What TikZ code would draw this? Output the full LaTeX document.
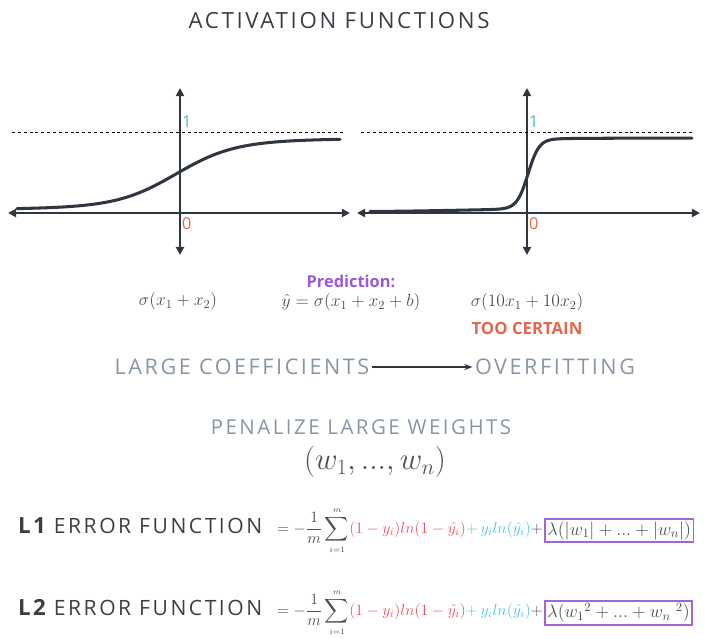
\RequirePackage{fix-cm}
\documentclass[tikz,border=0pt]{standalone}
\usepackage{amsmath}
\usepackage{fontspec}
\setsansfont{Open Sans}
\newfontfamily\widefont[LetterSpace=12]{Open Sans}
\usepackage{xcolor}
\usetikzlibrary{arrows.meta,positioning}
\definecolor{axisgray}{HTML}{2F3640}
\definecolor{titlegray}{HTML}{3A3F46}
\definecolor{slate}{HTML}{8796A5}
\definecolor{predpurple}{HTML}{9B59D6}
\definecolor{boxpurple}{HTML}{A463D8}
\definecolor{certorange}{HTML}{E5674B}
\definecolor{onecyan}{HTML}{45B8D5}
\definecolor{errred}{HTML}{E0556A}
\definecolor{errblue}{HTML}{4CC0E0}
\definecolor{mathgray}{HTML}{4A4F55}

\tikzset{
  axis/.style={line width=1.7pt,color=axisgray,{Triangle[length=7pt,width=7pt]}-{Triangle[length=7pt,width=7pt]}},
  curve/.style={line width=2.6pt,color=axisgray,line cap=round},
  limit/.style={line width=0.8pt,dash pattern=on 2.5pt off 2.5pt},
  onelbl/.style={font=\sffamily\fontsize{14}{16}\selectfont,text=onecyan,inner sep=0pt},
  zerolbl/.style={font=\sffamily\fontsize{14}{16}\selectfont,text=certorange,inner sep=0pt},
  mathlbl/.style={font=\fontsize{15}{18}\selectfont,text=mathgray,inner sep=0pt},
  headline/.style={font=\widefont\fontsize{19}{22}\selectfont,text=titlegray,inner sep=1pt},
  graylbl/.style={font=\widefont\fontsize{18.4}{22}\selectfont,text=slate,inner sep=2pt},
  rowlbl/.style={font=\widefont\fontsize{18}{21}\selectfont,text=titlegray,inner sep=0pt},
  formula/.style={font=\fontsize{13.5}{16}\selectfont,text=mathgray,inner sep=0pt},
  regbox/.style={draw=boxpurple,line width=1.4pt,font=\fontsize{15.5}{18}\selectfont,text=mathgray,inner sep=2pt}
}

\begin{document}
\begin{tikzpicture}[x=0.03cm,y=-0.03cm,>={Stealth[length=7pt]}]
  \useasboundingbox (0,0) rectangle (709,638);
  \node[headline] (title) at (339,21) {ACTIVATION FUNCTIONS};

  \draw[axis] (8,213) -- (350,213);
  \draw[axis] (180,88) -- (180,255);
  \draw[limit] (12,132) -- (345,132);
  \draw[curve] plot[domain=17:340,samples=150] (\x,{207-66/(1+exp(-0.034*(\x-176)))-0.012*(\x-176)});
  \node[onelbl,anchor=west] (onea) at (182,122) {1};
  \node[zerolbl,anchor=west] (zeroa) at (182,224) {0};

  \draw[axis] (357,213) -- (700,213);
  \draw[axis] (527,88) -- (527,255);
  \draw[limit] (361,132) -- (693,132);
  \draw[curve] plot[domain=370:692,samples=250] (\x,{212-70/(1+exp(max(-9,min(9,-0.18*(\x-528)))))-4/(1+exp(-0.02*(\x-470)))});
  \node[onelbl,anchor=west] (oneb) at (529,122) {1};
  \node[zerolbl,anchor=west] (zerob) at (529,224) {0};

  \node[mathlbl] (siga) at (178,301) {$\sigma(x_1+x_2)$};
  \node[font=\sffamily\bfseries\fontsize{14}{16}\selectfont,text=predpurple,inner sep=0pt] (pred) at (351,281) {Prediction:};
  \node[mathlbl] (yhat) at (351,302) {$\hat{y}=\sigma(x_1+x_2+b)$};
  \node[mathlbl] (sigb) at (527,302) {$\sigma(10x_1+10x_2)$};
  \node[font=\sffamily\bfseries\fontsize{14.3}{17}\selectfont,text=certorange,inner sep=0pt] (cert) at (527,328) {TOO CERTAIN};

  \node[graylbl] (large) at (242,367) {LARGE COEFFICIENTS};
  \node[graylbl] (over) at (555,367) {OVERFITTING};
  \draw[->,line width=1.2pt,color=axisgray] (large) -- (over);

  \node[graylbl,font=\widefont\fontsize{17.5}{21}\selectfont] (penal) at (361,427) {PENALIZE LARGE WEIGHTS};
  \node[font=\fontsize{26.5}{31}\selectfont,text=mathgray] (wvec) at (375,462) {$(w_1,...,w_n)$};

  \node[rowlbl,anchor=base west] (lone) at (18,533) {{\bfseries\fontsize{19}{21}\selectfont L\kern2pt1}\ ERROR FUNCTION};
  \node[formula,anchor=base west] (lonesum) at (277,533) {$\displaystyle=-\frac{1}{m}\sum_{\scriptscriptstyle i=1}^{\scriptscriptstyle m}\!\textcolor{errred}{(1-y_i)ln(1-\hat{y_i})}\textcolor{errblue}{+\,y_iln(\hat{y_i})}+$};
  \node[regbox,right=1pt of lonesum.east] (lonereg) {$\lambda(|w_1|+...+|w_n|)$};

  \node[rowlbl,anchor=base west] (ltwo) at (18,615) {{\bfseries\fontsize{19}{21}\selectfont L\kern2pt2}\ ERROR FUNCTION};
  \node[formula,anchor=base west] (ltwosum) at (277,615) {$\displaystyle=-\frac{1}{m}\sum_{\scriptscriptstyle i=1}^{\scriptscriptstyle m}\!\textcolor{errred}{(1-y_i)ln(1-\hat{y_i})}\textcolor{errblue}{+\,y_iln(\hat{y_i})}+$};
  \node[regbox,right=1pt of ltwosum.east] (ltworeg) {$\lambda(w_1{}^2+...+w_n\;{}^2)$};
\end{tikzpicture}
\end{document}
